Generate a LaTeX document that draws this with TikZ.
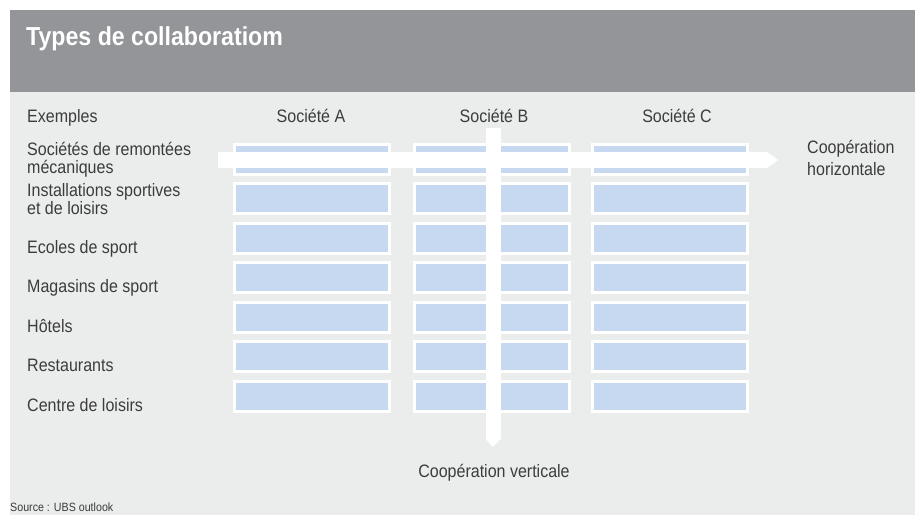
\documentclass[tikz,border=0pt]{standalone}
\usepackage{fontspec}
\setmainfont{Liberation Sans}[FakeStretch=0.89]
\usetikzlibrary{arrows.meta}

\definecolor{headgray}{RGB}{147,149,152}
\definecolor{panelgray}{RGB}{235,236,236}
\definecolor{cellblue}{RGB}{198,217,241}
\definecolor{textgray}{RGB}{60,60,60}

\tikzset{
  cell/.style={draw=white, line width=3pt, fill=cellblue, minimum width=155pt, minimum height=30pt, inner sep=0pt},
  lbl/.style={text=textgray, font=\fontsize{18}{17.5}\selectfont, inner sep=0pt},
  coop/.style={white, line width=16pt, -{Triangle[width=16pt,length=11pt,line width=0pt]}}
}

\begin{document}
\begin{tikzpicture}[x=1pt,y=-1pt]
	\useasboundingbox (0,0) rectangle (915,515);
	% panel and title band
	\fill[panelgray] (10,92) rectangle (915,515);
	\fill[headgray] (10,10) rectangle (915,92);
	\node[anchor=base west, text=white, font=\fontsize{26}{28}\selectfont\bfseries, inner sep=0pt] (title) at (26,45) {Types de collaboratiom};
	
	% column heads
	\node[lbl, anchor=base west] (ex) at (27,122) {Exemples};
	\node[lbl, anchor=base] (socA) at (311,122) {Société A};
	\node[lbl, anchor=base] (socB) at (494,122) {Société B};
	\node[lbl, anchor=base] (socC) at (677,122) {Société C};
	
	% grid of cells, one column per company
	\foreach \col/\x in {A/312,B/492,C/670}
		\foreach \row in {1,...,7}
			\node[cell] (cell-\col\row) at (\x,{159+39.5*(\row-1)}) {};
	
	% row labels (base = last line)
	\node[lbl, anchor=base west, align=left] (r1) at (27,173) {Sociétés de remontées\\mécaniques};
	\node[lbl, anchor=base west, align=left] (r2) at (27,214) {Installations sportives\\et de loisirs};
	\node[lbl, anchor=base west] (r3) at (27,253) {Ecoles de sport};
	\node[lbl, anchor=base west] (r4) at (27,292.5) {Magasins de sport};
	\node[lbl, anchor=base west] (r5) at (27,332) {Hôtels};
	\node[lbl, anchor=base west] (r6) at (27,371.5) {Restaurants};
	\node[lbl, anchor=base west] (r7) at (27,411) {Centre de loisirs};
	
	% the two cooperation arrows
	\coordinate (hz-start) at (218,160);
	\coordinate (hz-end) at (778,160);
	\coordinate (vt-start) at (493,128);
	\coordinate (vt-end) at (493,447);
	\draw[coop] (hz-start) -- (hz-end);
	\draw[coop, line width=15pt, -{Triangle[width=15pt,length=8pt,line width=0pt]}] (vt-start) -- (vt-end);
	
	\node[lbl, anchor=base west, align=left, font=\fontsize{18}{22}\selectfont] (hz-lbl) at (807,175) {Coopération\\horizontale};
	\node[lbl, anchor=base] (vt-lbl) at (494,477) {Coopération verticale};
	
	\node[lbl, anchor=base west, font=\fontsize{12}{13}\selectfont] (src) at (10,511) {Source : UBS outlook};
\end{tikzpicture}
\end{document}
